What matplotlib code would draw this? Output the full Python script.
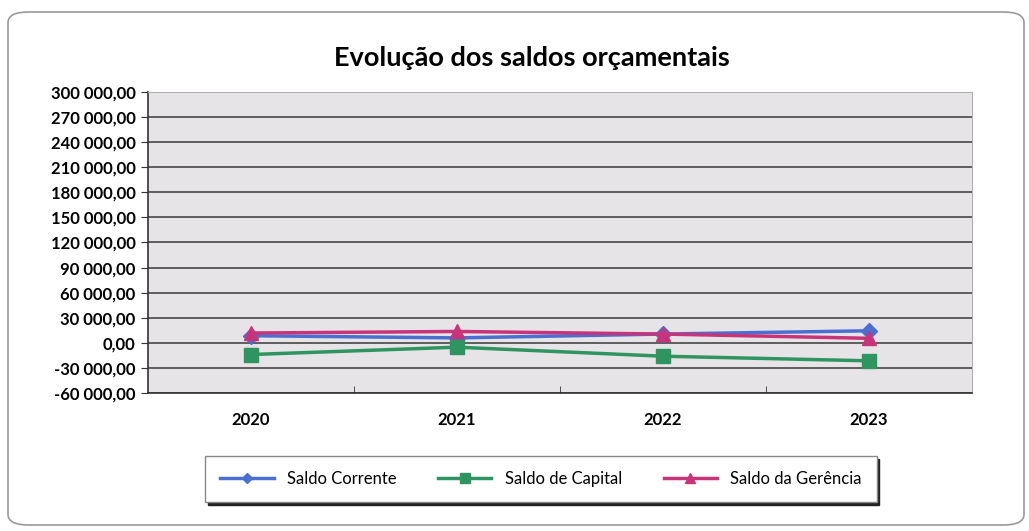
import matplotlib.pyplot as plt
from matplotlib.patches import FancyBboxPatch

# chart values
anos = ['2020', '2021', '2022', '2023']
saldo_corrente = [8500, 5900, 10500, 14400]
saldo_capital = [-14000, -5200, -16000, -21500]
saldo_gerencia = [11700, 13600, 10500, 5400]
y_ticks = list(range(-60000, 300001, 30000))


def fmt_pt(v):
    # portuguese style: space as thousands separator, comma decimal
    s = '{:,.2f}'.format(v)
    return s.replace(',', ' ').replace('.', ',')


plt.rcParams['font.family'] = ['Lato', 'DejaVu Sans']

fig = plt.figure(figsize=(10.29, 5.31), dpi=100)
fig.patch.set_facecolor('white')

# outer rounded frame
frame = FancyBboxPatch((8 / 1029, 1 - 525 / 531), 1016 / 1029, 513 / 531,
                       boxstyle='round,pad=0,rounding_size=0.02',
                       transform=fig.transFigure, facecolor='none',
                       edgecolor='#9a9a9a', linewidth=1.2, zorder=-1)
fig.patches.append(frame)

ax = fig.add_axes([148 / 1029, 1 - 393 / 531, 824 / 1029, 301 / 531])
ax.set_facecolor('#e6e4e6')

x = range(len(anos))
ax.plot(x, saldo_corrente, color='#4a6fd0', lw=2.5, marker='D', ms=8,
        label='Saldo Corrente', zorder=3)
ax.plot(x, saldo_capital, color='#2f9560', lw=2.5, marker='s', ms=10,
        label='Saldo de Capital', zorder=3)
ax.plot(x, saldo_gerencia, color='#c8347a', lw=2.5, marker='^', ms=10,
        label='Saldo da Gerência', zorder=4)

ax.set_xlim(-0.5, len(anos) - 0.5)
ax.set_ylim(-60000, 300000)
ax.set_yticks(y_ticks)
ax.set_yticklabels([fmt_pt(v) for v in y_ticks], fontsize=12, fontweight='bold')
ax.set_xticks(list(x))
ax.set_xticklabels(anos, fontsize=12, fontweight='bold')
ax.set_xticks([i + 0.5 for i in range(len(anos) - 1)], minor=True)
ax.tick_params(axis='x', which='major', length=0, pad=14)
ax.tick_params(axis='x', which='minor', length=5, direction='in', color='#333333')
ax.tick_params(axis='y', length=5, color='#333333', pad=4)
ax.grid(axis='y', color='#3a3a3a', lw=1.1)
ax.set_axisbelow(True)
for side in ['top', 'right']:
    ax.spines[side].set_color('#b0b0b0')
ax.spines['left'].set_color('#333333')
ax.spines['bottom'].set_color('#333333')
ax.spines['left'].set_linewidth(1.2)
ax.spines['bottom'].set_linewidth(1.2)

fig.text(0.517, 1 - 58 / 531, 'Evolução dos saldos orçamentais',
         ha='center', va='center', fontsize=19.5, fontweight='bold')

leg = fig.legend(loc='center', ncol=3, bbox_to_anchor=(197 / 1029, 1 - 500 / 531, 688 / 1029, 42 / 531),
                 mode='expand', fontsize=12, frameon=True, fancybox=False,
                 edgecolor='#888888', handlelength=3.2, markerscale=0.7,
                 shadow={'color': '#222222', 'alpha': 1}, borderpad=0.9, columnspacing=2)
leg.get_frame().set_linewidth(1.0)

fig.savefig('out.png', dpi=100)
